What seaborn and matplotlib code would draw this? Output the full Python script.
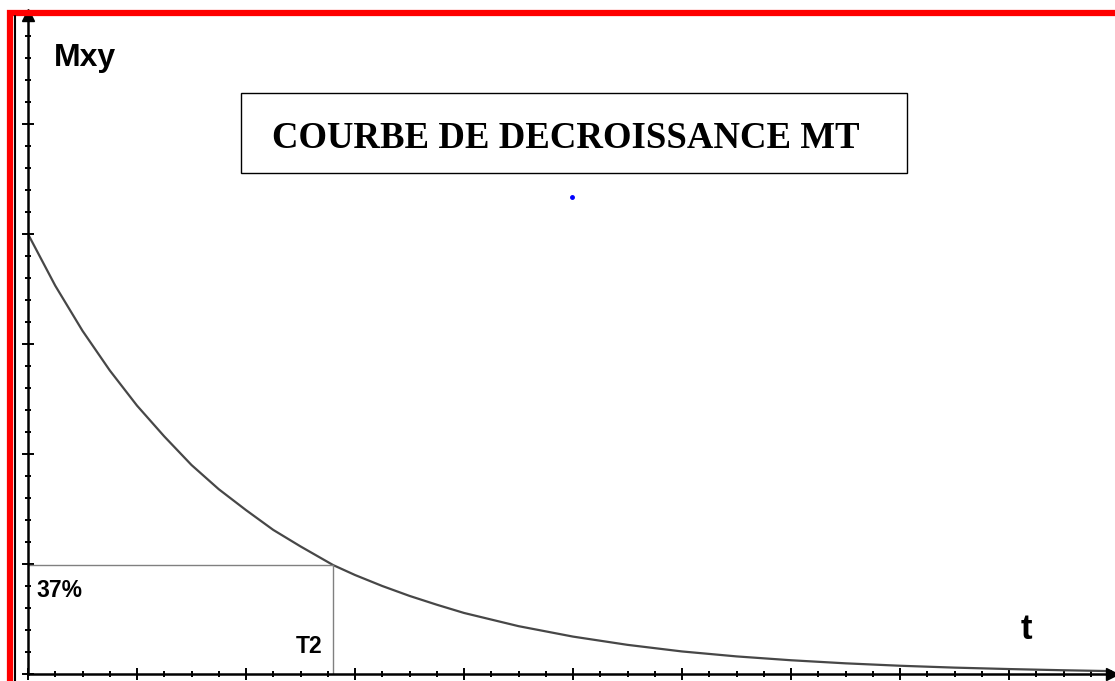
import numpy as np
import pandas as pd
import matplotlib
matplotlib.use("Agg")
import matplotlib.pyplot as plt
from matplotlib.patches import Rectangle
from matplotlib.ticker import MultipleLocator, NullFormatter
import seaborn as sns

# values (t and Mxy in axis units)
t_vals = [0.0, 0.25, 0.5, 0.75, 1.0, 1.25, 1.5, 1.75, 2.0, 2.25, 2.5, 2.8,
          3.0, 3.25, 3.5, 3.75, 4.0, 4.5, 5.0, 5.5, 6.0, 6.5, 7.0, 7.5,
          8.0, 8.5, 9.0, 9.5, 9.95]
mxy_vals = [4.0, 3.53, 3.12, 2.76, 2.44, 2.16, 1.90, 1.68, 1.49, 1.31, 1.16, 0.99,
            0.90, 0.80, 0.71, 0.63, 0.555, 0.435, 0.34, 0.265, 0.205, 0.16, 0.125, 0.097,
            0.075, 0.058, 0.045, 0.034, 0.026]
t2 = 2.8
level_37 = 0.99
title_text = "COURBE DE DECROISSANCE MT"

W, H = 1115, 681

def fx(px):
    return px / W

def fy(py):
    return 1 - py / H

sns.set_style("white")
plt.rcParams['font.family'] = ['Liberation Sans', 'DejaVu Sans']
plt.rcParams['text.color'] = 'black'

fig = plt.figure(figsize=(W / 100, H / 100), dpi=100)
ax = fig.add_axes([fx(28), fy(674), fx(1112) - fx(28), fy(15) - fy(674)])

df = pd.DataFrame({"t": t_vals, "Mxy": mxy_vals})
sns.lineplot(data=df, x="t", y="Mxy", ax=ax, color="#474747", linewidth=1.6)

# 37% / T2 guide lines
ax.plot([0, t2], [level_37, level_37], color="#808080", linewidth=1.0)
ax.plot([t2, t2], [0, level_37], color="#808080", linewidth=1.0)

ax.set_xlim(0, (1112 - 28) / 109)
ax.set_ylim(0, (674 - 15) / 110)
ax.set_xlabel("")
ax.set_ylabel("")

for s in ["top", "right"]:
    ax.spines[s].set_visible(False)
for s in ["left", "bottom"]:
    ax.spines[s].set_linewidth(1.8)
    ax.spines[s].set_color("black")

ax.xaxis.set_major_locator(MultipleLocator(1))
ax.xaxis.set_minor_locator(MultipleLocator(0.25))
ax.yaxis.set_major_locator(MultipleLocator(1))
ax.yaxis.set_minor_locator(MultipleLocator(0.2))
ax.xaxis.set_major_formatter(NullFormatter())
ax.yaxis.set_major_formatter(NullFormatter())
ax.tick_params(which="major", direction="inout", length=8, width=1.4, color="black",
               bottom=True, left=True)
ax.tick_params(which="minor", direction="inout", length=4, width=1.4, color="black",
               bottom=True, left=True)

# arrows at the axis ends
ax.plot(1, 0, marker=">", color="black", markersize=9, transform=ax.transAxes, clip_on=False)
ax.plot(0, 1, marker="^", color="black", markersize=9, transform=ax.transAxes, clip_on=False)

# labels
fig.text(fx(54), fy(66), "Mxy", fontsize=23, fontweight="bold", ha="left", va="baseline")
fig.text(fx(1021), fy(639), "t", fontsize=25, fontweight="bold", ha="left", va="baseline")
fig.text(fx(36), fy(597), "37%", fontsize=16.5, fontweight="bold", ha="left", va="baseline")
fig.text(fx(296), fy(653), "T2", fontsize=16.5, fontweight="bold", ha="left", va="baseline")

# title box
fig.add_artist(Rectangle((fx(241), fy(173)), fx(907) - fx(241), fy(93) - fy(173),
                         transform=fig.transFigure, fill=False, edgecolor="black", linewidth=1.0))
fig.text(fx(566), fy(148), title_text, fontsize=26.5, fontweight="bold",
         family=["Liberation Serif", "DejaVu Serif"], ha="center", va="baseline")

# small blue dot
fig.add_artist(plt.Line2D([fx(572)], [fy(197)], marker="o", markersize=2.5, color="blue",
                          transform=fig.transFigure))

# red frame (left and top visible)
fig.add_artist(plt.Line2D([fx(14.5), fx(14.5)], [fy(16), 0], color="black", linewidth=1.5,
                          transform=fig.transFigure))
fig.add_artist(Rectangle((fx(10), -0.05), 1.1, fy(12.5) + 0.05, transform=fig.transFigure,
                         fill=False, edgecolor="red", linewidth=4.5))

fig.savefig("out.png", dpi=100)
